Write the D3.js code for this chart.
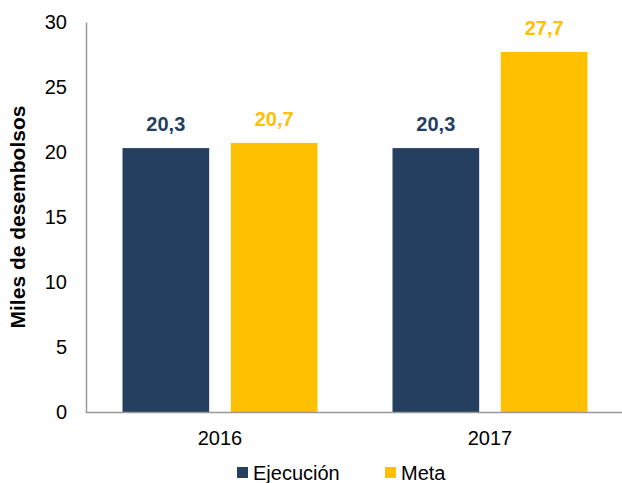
<!DOCTYPE html>
<html>
<head>
<meta charset="utf-8">
<script src="https://cdn.jsdelivr.net/npm/d3@7"></script>
<style>
  body { margin: 0; background: #fff; }
  text { font-family: Arial, "Liberation Sans", sans-serif; }
</style>
</head>
<body>
<script>
const w = 622,
  h = 483;

const years = ['2016', '2017'];
const series = ['Ejecución', 'Meta'];
const ejecucion = [20.3, 20.3];
const meta = [20.7, 27.7];
const yTicks = [0, 5, 10, 15, 20, 25, 30];
const colors = ['#243F60', '#FFC000'];

const values = [ejecucion, meta];
const data = years.map((y, i) => ({ year: y, vals: series.map((s, j) => ({ s, j, v: values[j][i] })) }));

const yScale = d3.scaleLinear()
  .domain([0, 30])
  .range([412, 22]);

const xScale = d3.scaleBand()
  .domain(years)
  .range([85, 625]);

const inner = d3.scaleBand()
  .domain(series)
  .range([37.5, 232.5])
  .paddingInner(0.2);

const svg = d3.select('body')
  .append('svg')
  .attr('width', w)
  .attr('height', h);

// bars
const groups = svg.selectAll('g.year')
  .data(data)
  .enter()
  .append('g')
  .attr('class', 'year')
  .attr('transform', d => `translate(${xScale(d.year)},0)`);

groups.selectAll('rect')
  .data(d => d.vals)
  .enter()
  .append('rect')
  .attr('x', d => inner(d.s))
  .attr('width', inner.bandwidth())
  .attr('y', d => yScale(d.v))
  .attr('height', d => yScale(0) - yScale(d.v))
  .attr('fill', d => colors[d.j]);

groups.selectAll('text.val')
  .data(d => d.vals)
  .enter()
  .append('text')
  .attr('class', 'val')
  .attr('x', d => inner(d.s) + inner.bandwidth() / 2)
  .attr('y', d => yScale(d.v) - 17)
  .attr('text-anchor', 'middle')
  .attr('font-size', 20)
  .attr('font-weight', 'bold')
  .attr('fill', d => colors[d.j])
  .text(d => d.v.toFixed(1).replace('.', ','));

// axes
const yAxis = d3.axisLeft(yScale)
  .tickValues(yTicks)
  .tickSize(0)
  .tickPadding(19);

const gy = svg.append('g')
  .attr('transform', 'translate(86,0)')
  .call(yAxis);
gy.select('.domain').attr('stroke', '#999').attr('stroke-width', 1.5);
gy.selectAll('text').attr('font-size', 20).attr('fill', '#000').attr('font-family', 'Arial, "Liberation Sans", sans-serif');

const xAxis = d3.axisBottom(xScale)
  .tickSize(0)
  .tickPadding(19);

const gx = svg.append('g')
  .attr('transform', 'translate(0,412)')
  .call(xAxis);
gx.select('.domain').attr('stroke', '#999').attr('stroke-width', 1.5);
gx.selectAll('text').attr('font-size', 20).attr('fill', '#000').attr('font-family', 'Arial, "Liberation Sans", sans-serif');

svg.append('text')
  .attr('transform', 'translate(25,217) rotate(-90)')
  .attr('text-anchor', 'middle')
  .attr('font-size', 21)
  .attr('font-weight', 'bold')
  .text('Miles de desembolsos');

// legend
const legendX = [237, 385];
const legend = svg.selectAll('g.legend')
  .data(series)
  .enter()
  .append('g')
  .attr('class', 'legend')
  .attr('transform', (d, i) => `translate(${legendX[i]},467)`);

legend.append('rect')
  .attr('width', 11)
  .attr('height', 11)
  .attr('fill', (d, i) => colors[i]);

legend.append('text')
  .attr('x', 16)
  .attr('y', 13)
  .attr('font-size', 20)
  .attr('fill', '#000')
  .text(d => d);
</script>
</body>
</html>
